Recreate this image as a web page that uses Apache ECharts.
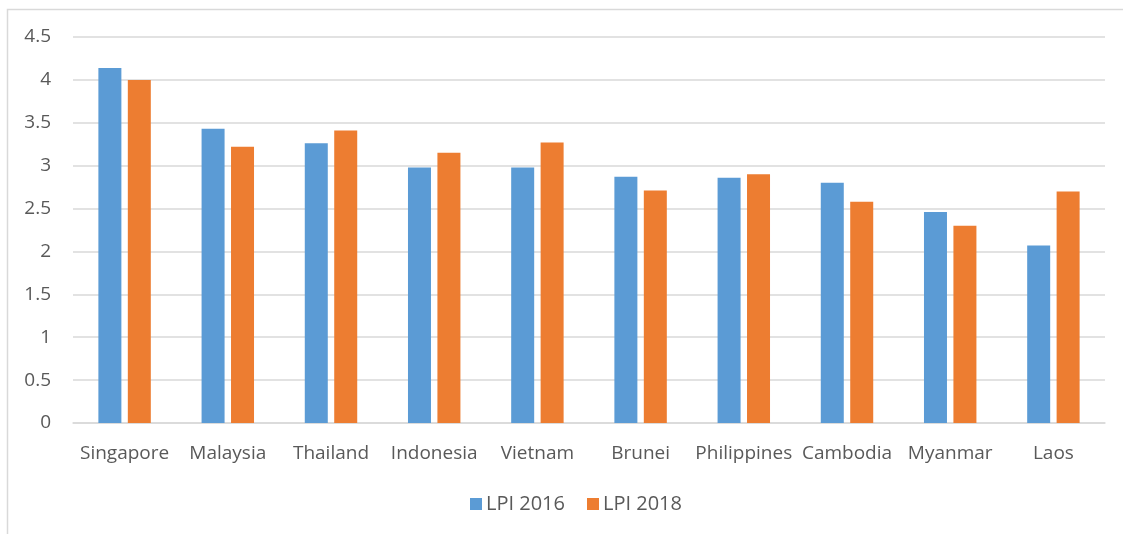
<!DOCTYPE html>
<html>
<head>
<meta charset="utf-8">
<script src="https://cdn.jsdelivr.net/npm/echarts@6/dist/echarts.min.js"></script>
<style>
  html, body { margin: 0; padding: 0; background: #fff; }
  #chart { width: 1123px; height: 534px; }
</style>
</head>
<body>
<div id="chart"></div>
<script>
// countries on the x axis
const countries = ['Singapore', 'Malaysia', 'Thailand', 'Indonesia', 'Vietnam',
  'Brunei', 'Philippines', 'Cambodia', 'Myanmar', 'Laos'];
// LPI scores
const lpi2016 = [4.14, 3.43, 3.26, 2.98, 2.98, 2.87, 2.86, 2.80, 2.46, 2.07];
const lpi2018 = [4.00, 3.22, 3.41, 3.15, 3.27, 2.71, 2.90, 2.58, 2.30, 2.70];
const seriesNames = ['LPI 2016', 'LPI 2018'];

const font = '"Open Sans", "Noto Sans", sans-serif';
const textGray = '#595959';
const lineGray = '#d9d9d9';

let chart = echarts.init(document.getElementById('chart'), null, {renderer: 'canvas'});

chart.setOption({
  animation: false,
  textStyle: {fontFamily: font},
  graphic: [{
    type: 'rect',
    silent: true,
    shape: {x: 7.5, y: 9.5, width: 1300, height: 700},
    style: {fill: 'none', stroke: lineGray, lineWidth: 1.5}
  }],
  grid: {left: 73, right: 18, top: 37, bottom: 111, containLabel: false},
  legend: {
    top: 494,
    left: 470,
    itemWidth: 12,
    itemHeight: 12,
    itemGap: 22,
    icon: 'rect',
    padding: 0,
    data: seriesNames,
    textStyle: {color: textGray, fontSize: 20, fontFamily: font, padding: [0, 0, 0, -1]}
  },
  xAxis: {
    type: 'category',
    data: countries,
    axisLine: {show: true, lineStyle: {color: lineGray, width: 1.5}},
    axisTick: {show: false},
    axisLabel: {color: textGray, fontSize: 19, margin: 21, interval: 0}
  },
  yAxis: {
    type: 'value',
    min: 0,
    max: 4.5,
    interval: 0.5,
    axisLine: {show: false},
    axisTick: {show: false},
    splitLine: {lineStyle: {color: lineGray, width: 1.5}},
    axisLabel: {color: textGray, fontSize: 19, margin: 22}
  },
  series: [
    {name: seriesNames[0], type: 'bar', data: lpi2016, barWidth: 23, barGap: '28%',
     itemStyle: {color: '#5b9bd5'}},
    {name: seriesNames[1], type: 'bar', data: lpi2018, barWidth: 23,
     itemStyle: {color: '#ed7d31'}}
  ]
});
</script>
</body>
</html>
